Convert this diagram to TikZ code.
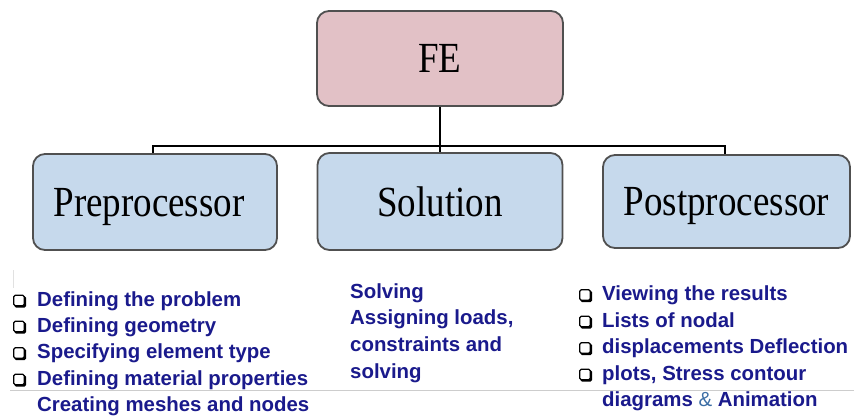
\documentclass[tikz,border=0pt]{standalone}
\usepackage{fontspec}
\usepackage{graphicx}
\setmainfont{Liberation Serif}
\newfontfamily\listfont{Liberation Sans}
\definecolor{fepink}{RGB}{226,193,198}
\definecolor{boxblue}{RGB}{198,217,236}
\definecolor{boxedge}{RGB}{80,80,80}
\definecolor{navytext}{RGB}{26,26,140}
\definecolor{ampblue}{RGB}{60,110,165}
\definecolor{rulegrey}{RGB}{205,205,205}
\newcommand\boxlabel[1]{\scalebox{1}[1.16]{#1}}
\tikzset{
  diagbox/.style={draw=boxedge, line width=1.8pt, rounded corners=12pt, inner sep=0pt,
    text depth=0pt, font=\fontsize{37}{40}\selectfont},
  febox/.style={diagbox, fill=fepink},
  childbox/.style={diagbox, fill=boxblue},
  conn/.style={draw=black, line width=2.8pt},
  listline/.style={anchor=base west, inner sep=0pt, text=navytext,
    font=\listfont\bfseries\fontsize{20.4}{26}\selectfont},
  bulletshade/.style={fill=black, minimum size=11.5pt, inner sep=0pt, rounded corners=1.5pt},
  bulletbox/.style={draw=black, fill=white, line width=1.2pt, minimum size=10.5pt, inner sep=0pt, rounded corners=1.5pt}
}
\begin{document}
\begin{tikzpicture}[x=1pt,y=-1pt]
\useasboundingbox[fill=white] (0,0) rectangle (854,416);
% boxes
\node[febox, minimum width=246pt, minimum height=95pt] (fe) at (440,58.5) {\boxlabel{FE}};
\node[childbox, minimum width=244pt, minimum height=96pt] (pre) at (155,202) {\hspace*{-12pt}\boxlabel{Preprocessor}};
\node[childbox, minimum width=245pt, minimum height=97pt] (sol) at (440,201.5) {\boxlabel{Solution}};
\node[childbox, minimum width=247pt, minimum height=93pt] (post) at (726.5,201.5) {\boxlabel{Postprocessor}};
% connectors
\coordinate (bar) at (440,146);
\draw[conn] (fe.south) -- (sol.north);
\draw[conn, line join=miter] (pre.north -| 153,0) -- (153,146) -- (725,146) -- (post.north -| 725,0);
% faint rules
\draw[rulegrey, line width=1pt] (10,390) -- (854,390);
\draw[rulegrey!60, line width=1pt] (13,270) -- (13,288);
% left list
\foreach \yy/\txt [count=\i] in {306/Defining the problem,332/Defining geometry,358.5/Specifying element type,385/Defining material properties}{
  \node[bulletshade] (lsh\i) at (20.3,\yy-4.2) {};
  \node[bulletbox] (lb\i) at (19,\yy-5.5) {};
  \node[listline] (l\i) at (37,\yy) {\txt};
}
\node[listline] (l5) at (37,411) {Creating meshes and nodes};
% middle list
\node[listline] (s1) at (350,298) {Solving};
\node[listline] (s2) at (350,324.5) {Assigning loads,};
\node[listline] (s3) at (350,351.5) {constraints and};
\node[listline] (s4) at (350,378) {solving};
% right list
\foreach \yy/\txt [count=\i] in {300.5/Viewing the results,327/Lists of nodal,353.5/displacements Deflection,380/{plots, Stress contour}}{
  \node[bulletshade] (rsh\i) at (586.3,\yy-4.2) {};
  \node[bulletbox] (rb\i) at (585,\yy-5.5) {};
  \node[listline] (r\i) at (602,\yy) {\txt};
}
\node[listline] (r5) at (602,406.5) {diagrams \textcolor{ampblue}{\mdseries\&} Animation};
\end{tikzpicture}
\end{document}
